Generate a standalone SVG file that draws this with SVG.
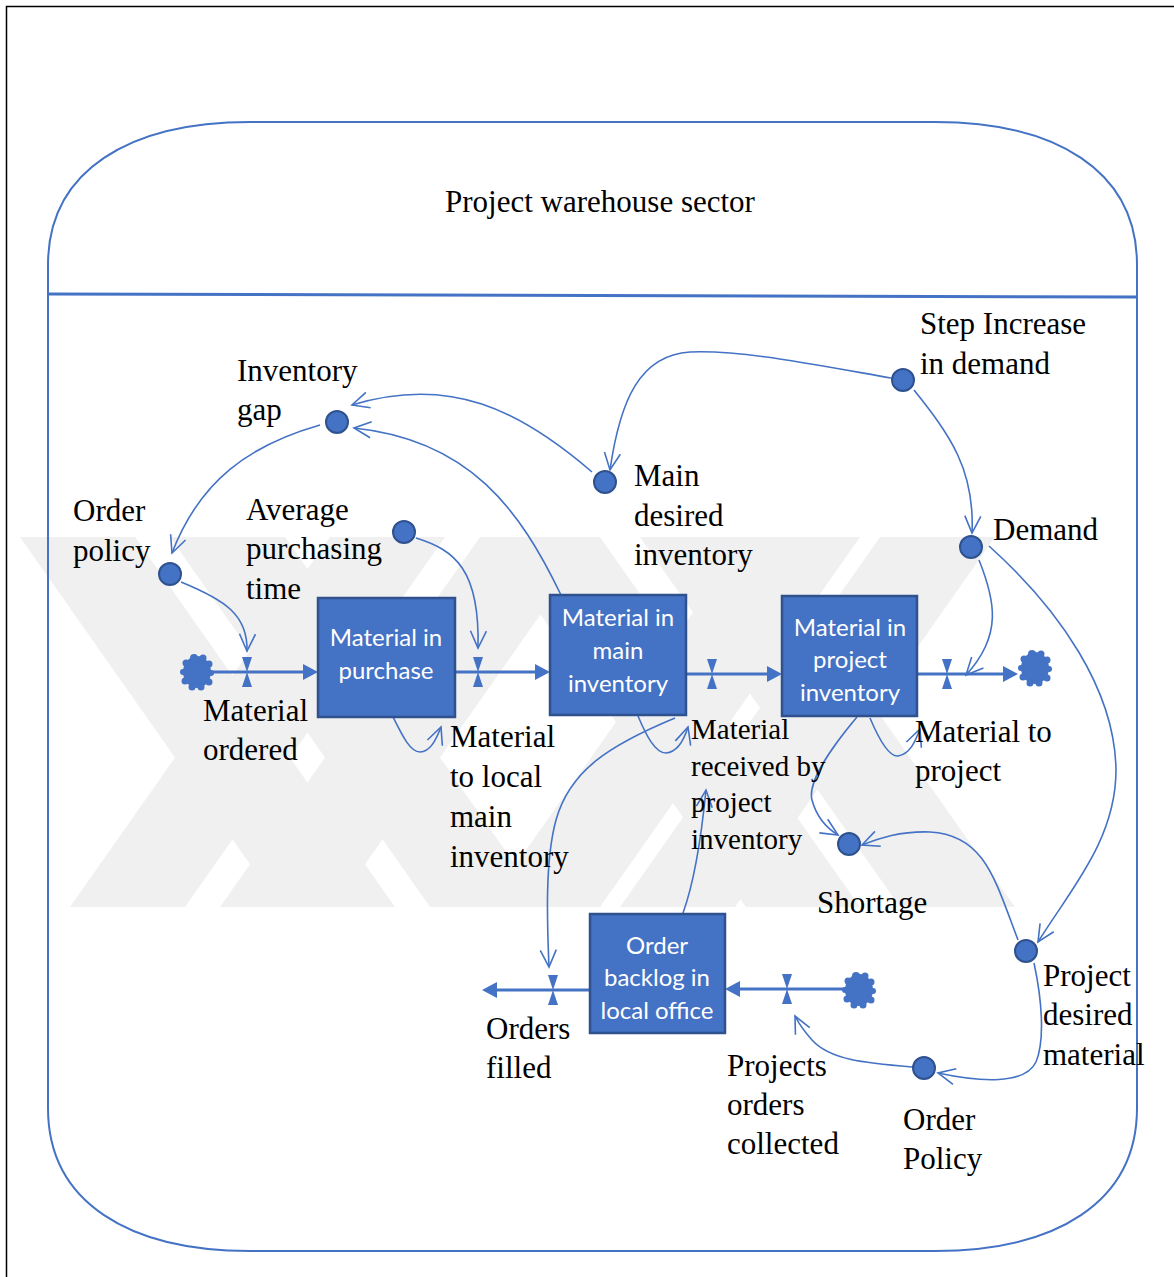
<svg xmlns="http://www.w3.org/2000/svg" xmlns:xlink="http://www.w3.org/1999/xlink" width="1174" height="1277" viewBox="0 0 1174 1277">
  <style>
    .lbl { font-family: "Liberation Serif", "Times New Roman", serif; font-size: 31px; fill: #000; }
    .lbl-s { font-family: "Liberation Serif", "Times New Roman", serif; font-size: 29px; fill: #000; }
    .stock rect { fill: #4472C4; stroke: #2F528F; stroke-width: 2.5; }
    .stock text { font-family: Lato, "Open Sans", sans-serif; font-size: 24px; fill: #fff; text-anchor: middle; }
    .aux { fill: #4472C4; stroke: #2F528F; stroke-width: 2; }
    .link { fill: none; stroke: #4472C4; stroke-width: 1.6; marker-end: url(#open); }
    .pipe { fill: none; stroke: #4472C4; stroke-width: 3; }
    .head { fill: #4472C4; }
    .wm { fill: #f0f0f0; }
  </style>
  <defs>
    <marker id="open" markerUnits="userSpaceOnUse" markerWidth="22" markerHeight="22" refX="18" refY="9" orient="auto">
      <path d="M1,1 L18,9 L1,17" fill="none" stroke="#4472C4" stroke-width="1.6"/>
    </marker>
    <!-- irregular source/sink cloud -->
    <g id="cloud" fill="#4472C4">
      <ellipse cx="0" cy="0" rx="14" ry="16"/>
      <circle cx="-3" cy="-14" r="4"/>
      <circle cx="6" cy="-14" r="3.5"/>
      <circle cx="12" cy="-8" r="3.5"/>
      <circle cx="14" cy="1" r="3"/>
      <circle cx="12" cy="10" r="3.5"/>
      <circle cx="4" cy="15" r="3.5"/>
      <circle cx="-5" cy="15" r="3.5"/>
      <circle cx="-12" cy="9" r="3.5"/>
      <circle cx="-14" cy="0" r="3"/>
      <circle cx="-11" cy="-9" r="3.5"/>
    </g>
    <g id="valve">
      <path d="M-5,-15 L5,-15 L0,0 Z M-5,15 L5,15 L0,0 Z" fill="#4472C4"/>
    </g>
  </defs>

  <rect width="1174" height="1277" fill="#fff"/>

  <!-- faint background stripes -->
  <g id="background-stripes">
    <polygon class="wm" points="20,537 135,537 395,907 280,907"/>
    <polygon class="wm" points="330,537 445,537 185,907 70,907"/>
    <polygon class="wm" points="170,537 285,537 545,907 430,907"/>
    <polygon class="wm" points="480,537 595,537 335,907 220,907"/>
    <polygon class="wm" points="486,537 600,537 860,907 746,907"/>
    <polygon class="wm" points="746,537 860,537 600,907 486,907"/>
    <polygon class="wm" points="640,537 755,537 1015,907 900,907"/>
    <polygon class="wm" points="880,537 995,537 735,907 620,907"/>
  </g>

  <!-- page frame -->
  <rect x="6.5" y="6.5" width="1200" height="1300" fill="none" stroke="#000" stroke-width="1.5"/>

  <!-- sector boundary -->
  <g id="sector">
    <path d="M250,122 L935,122 C1055,122 1137,170 1137,265 L1137,1108 C1137,1203 1055,1251 935,1251 L250,1251 C130,1251 48,1203 48,1108 L48,265 C48,170 130,122 250,122 Z" fill="none" stroke="#4472C4" stroke-width="2"/>
    <line x1="48" y1="294" x2="1137" y2="297" stroke="#4472C4" stroke-width="3"/>
    <text class="lbl" x="600" y="212" text-anchor="middle">Project warehouse sector</text>
  </g>

  <!-- connectors -->
  <g id="connectors">
    <!-- material pipes -->
    <line class="pipe" x1="205" y1="672" x2="305" y2="672"/>
    <polygon class="head" points="303,664 318,672 303,680"/>
    <line class="pipe" x1="455" y1="672" x2="537" y2="672"/>
    <polygon class="head" points="535,664 550,672 535,680"/>
    <line class="pipe" x1="686" y1="674" x2="769" y2="674"/>
    <polygon class="head" points="767,666 782,674 767,682"/>
    <line class="pipe" x1="917" y1="674" x2="1005" y2="674"/>
    <polygon class="head" points="1003,666 1018,674 1003,682"/>
    <line class="pipe" x1="850" y1="989" x2="738" y2="989"/>
    <polygon class="head" points="740,981 725,989 740,997"/>
    <line class="pipe" x1="590" y1="990" x2="495" y2="990"/>
    <polygon class="head" points="497,982 482,990 497,998"/>

    <!-- valves -->
    <use xlink:href="#valve" x="247" y="672"/>
    <use xlink:href="#valve" x="478" y="672"/>
    <use xlink:href="#valve" x="712" y="674"/>
    <use xlink:href="#valve" x="947" y="674"/>
    <use xlink:href="#valve" x="787" y="989"/>
    <use xlink:href="#valve" x="553" y="990"/>

    <!-- clouds -->
    <use xlink:href="#cloud" x="197" y="672"/>
    <use xlink:href="#cloud" x="1035" y="668"/>
    <use xlink:href="#cloud" x="859" y="990"/>

    <!-- information links -->
    <path class="link" d="M592,472 C520,410 450,375 352,405"/>
    <path class="link" d="M561,595 C520,510 470,440 354,428"/>
    <path class="link" d="M320,425 C250,445 200,480 172,553"/>
    <path class="link" d="M181,582 C225,600 248,615 247,651"/>
    <path class="link" d="M416,538 C455,550 480,570 478,648"/>
    <path class="link" d="M891,378 C800,362 740,350 690,352 C640,355 620,400 610,470"/>
    <path class="link" d="M914,390 C950,435 975,470 972,533"/>
    <path class="link" d="M979,560 C995,600 1003,635 966,675"/>
    <path class="link" d="M989,546 C1060,610 1115,690 1116,770 C1116,840 1070,890 1038,942"/>
    <path class="link" d="M857,717 C825,755 808,785 812,800 C816,815 825,827 838,835"/>
    <path class="link" d="M1018,940 C995,880 985,835 930,832 C900,831 880,838 862,845"/>
    <path class="link" d="M1034,963 C1042,1000 1045,1040 1036,1062 C1025,1085 980,1082 938,1073"/>
    <path class="link" d="M912,1067 C865,1063 830,1060 812,1040 C803,1030 798,1022 795,1016"/>
    <path class="link" d="M675,718 C610,745 570,770 556,820 C545,860 547,920 549,967"/>
    <path class="link" d="M683,913 C695,880 702,830 706,790"/>
    <path class="link" d="M393,717 C402,735 410,752 420,752 C430,752 436,740 441,727"/>
    <path class="link" d="M638,716 C646,735 655,753 666,753 C678,752 684,740 688,727"/>
    <path class="link" d="M870,718 C878,737 888,757 898,756 C910,754 915,742 920,729"/>
  </g>

  <!-- stocks -->
  <g id="material-in-purchase" class="stock">
    <rect x="318" y="598" width="137" height="119"/>
    <text x="386" y="646">Material in</text>
    <text x="386" y="679">purchase</text>
  </g>
  <g id="material-in-main-inventory" class="stock">
    <rect x="550" y="595" width="136" height="120"/>
    <text x="618" y="626">Material in</text>
    <text x="618" y="659">main</text>
    <text x="618" y="692">inventory</text>
  </g>
  <g id="material-in-project-inventory" class="stock">
    <rect x="782" y="596" width="135" height="120"/>
    <text x="850" y="636">Material in</text>
    <text x="850" y="668">project</text>
    <text x="850" y="701">inventory</text>
  </g>
  <g id="order-backlog" class="stock">
    <rect x="590" y="914" width="135" height="119"/>
    <text x="657" y="954">Order</text>
    <text x="657" y="986">backlog in</text>
    <text x="657" y="1019">local office</text>
  </g>

  <!-- auxiliaries -->
  <g id="inventory-gap">
    <circle class="aux" cx="337" cy="422" r="11"/>
    <text class="lbl" x="237" y="381">Inventory</text>
    <text class="lbl" x="237" y="420">gap</text>
  </g>
  <g id="order-policy-top">
    <circle class="aux" cx="170" cy="574" r="11"/>
    <text class="lbl" x="73" y="521">Order</text>
    <text class="lbl" x="73" y="561">policy</text>
  </g>
  <g id="average-purchasing-time">
    <circle class="aux" cx="404" cy="532" r="11"/>
    <text class="lbl" x="246" y="520">Average</text>
    <text class="lbl" x="246" y="559">purchasing</text>
    <text class="lbl" x="246" y="599">time</text>
  </g>
  <g id="main-desired-inventory">
    <circle class="aux" cx="605" cy="482" r="11"/>
    <text class="lbl" x="634" y="486">Main</text>
    <text class="lbl" x="634" y="526">desired</text>
    <text class="lbl" x="634" y="565">inventory</text>
  </g>
  <g id="step-increase">
    <circle class="aux" cx="903" cy="380" r="11"/>
    <text class="lbl" x="920" y="334">Step Increase</text>
    <text class="lbl" x="920" y="374">in demand</text>
  </g>
  <g id="demand">
    <circle class="aux" cx="971" cy="547" r="11"/>
    <text class="lbl" x="993" y="540">Demand</text>
  </g>
  <g id="shortage">
    <circle class="aux" cx="849" cy="844" r="11"/>
    <text class="lbl" x="817" y="913">Shortage</text>
  </g>
  <g id="project-desired-material">
    <circle class="aux" cx="1026" cy="951" r="11"/>
    <text class="lbl" x="1043" y="986">Project</text>
    <text class="lbl" x="1043" y="1025">desired</text>
    <text class="lbl" x="1043" y="1065">material</text>
  </g>
  <g id="order-policy-bottom">
    <circle class="aux" cx="924" cy="1068" r="11"/>
    <text class="lbl" x="903" y="1130">Order</text>
    <text class="lbl" x="903" y="1169">Policy</text>
  </g>

  <!-- flow labels -->
  <g id="flow-labels">
    <text class="lbl" x="203" y="721">Material</text>
    <text class="lbl" x="203" y="760">ordered</text>
    <text class="lbl" x="450" y="747">Material</text>
    <text class="lbl" x="450" y="787">to local</text>
    <text class="lbl" x="450" y="827">main</text>
    <text class="lbl" x="450" y="867">inventory</text>
    <text class="lbl-s" x="691" y="739">Material</text>
    <text class="lbl-s" x="691" y="776">received by</text>
    <text class="lbl-s" x="691" y="812">project</text>
    <text class="lbl-s" x="691" y="849">inventory</text>
    <text class="lbl" x="915" y="742">Material to</text>
    <text class="lbl" x="915" y="781">project</text>
    <text class="lbl" x="486" y="1039">Orders</text>
    <text class="lbl" x="486" y="1078">filled</text>
    <text class="lbl" x="727" y="1076">Projects</text>
    <text class="lbl" x="727" y="1115">orders</text>
    <text class="lbl" x="727" y="1154">collected</text>
  </g>
</svg>
